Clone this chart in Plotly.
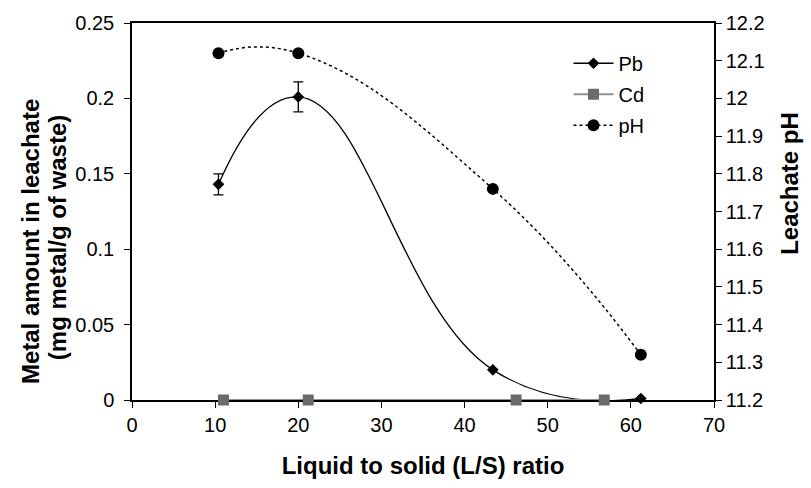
import plotly.graph_objects as go

pb_x = [10.4, 20.0, 43.4, 61.2]
pb_y = [0.143, 0.201, 0.020, 0.001]
pb_err = [0.007, 0.010, 0.0, 0.0]

cd_x = [11.0, 21.2, 46.2, 56.8]
cd_y = [0.0, 0.0, 0.0, 0.0]

ph_x = [10.4, 20.0, 43.4, 61.2]
ph_y = [12.12, 12.12, 11.76, 11.32]

x_ticks = [0, 10, 20, 30, 40, 50, 60, 70]
y1_ticks = [0, 0.05, 0.1, 0.15, 0.2, 0.25]
y1_labels = ["0", "0.05", "0.1", "0.15", "0.2", "0.25"]
y2_ticks = [11.2, 11.3, 11.4, 11.5, 11.6, 11.7, 11.8, 11.9, 12.0, 12.1, 12.2]
y2_labels = ["11.2", "11.3", "11.4", "11.5", "11.6", "11.7", "11.8", "11.9", "12", "12.1", "12.2"]

FONT = "Liberation Sans, Arial, sans-serif"
TICK = 20
TITLE = 24

fig = go.Figure()
fig.add_trace(go.Scatter(
    x=pb_x, y=pb_y, name="Pb", mode="lines+markers", legendgroup="a", cliponaxis=False,
    line=dict(color="black", width=1.3, shape="spline", smoothing=1.3),
    marker=dict(symbol="diamond", size=9, color="black"),
    error_y=dict(type="data", array=pb_err, visible=True, color="black", thickness=1.3, width=5),
))
fig.add_trace(go.Scatter(
    x=cd_x, y=cd_y, name="Cd", mode="lines+markers", legendgroup="b", cliponaxis=False,
    line=dict(color="#919191", width=2.2),
    marker=dict(symbol="square", size=11, color="#6b6b6b"),
))
fig.add_trace(go.Scatter(
    x=ph_x, y=ph_y, name="pH", mode="lines+markers", legendgroup="c", yaxis="y2", cliponaxis=False,
    line=dict(color="black", width=1.5, dash="dot", shape="spline", smoothing=1.3),
    marker=dict(symbol="circle", size=12, color="black"),
))

axis_common = dict(
    showline=True, linecolor="black", linewidth=1.5, ticks="outside", ticklen=6,
    tickcolor="black", tickwidth=1.2, showgrid=False, zeroline=False, layer="below traces",
    tickfont=dict(family=FONT, size=TICK, color="black"),
)

title_font = dict(family=FONT, size=TITLE, color="black")

fig.update_layout(
    width=811, height=488,
    margin=dict(l=132, r=97, t=18, b=88),
    plot_bgcolor="white", paper_bgcolor="white",
    font=dict(family=FONT, color="black"),
    xaxis=dict(range=[0, 70], tickvals=x_ticks, mirror=True,
               title=dict(text="<b>Liquid to solid (L/S) ratio</b>",
                          font=title_font, standoff=22),
               **axis_common),
    yaxis=dict(range=[0, 0.25], tickvals=y1_ticks, ticktext=y1_labels,
               ticklabelstandoff=6, **axis_common),
    yaxis2=dict(range=[11.2, 12.2], tickvals=y2_ticks, ticktext=y2_labels,
                overlaying="y", side="right", **axis_common),
    legend=dict(x=0.75, y=0.945, xanchor="left", yanchor="top",
                font=dict(family=FONT, size=TICK), bgcolor="rgba(0,0,0,0)",
                itemwidth=40, tracegroupgap=2),
    showlegend=True,
    annotations=[
        dict(text="<b>Metal amount in leachate</b>", textangle=-90, xref="paper", yref="paper",
             x=(30 - 132) / 582, y=(400 - 240) / 382, xanchor="center", yanchor="middle",
             showarrow=False, font=title_font),
        dict(text="<b>(mg metal/g of waste)</b>", textangle=-90, xref="paper", yref="paper",
             x=(57 - 132) / 582, y=(400 - 236) / 382, xanchor="center", yanchor="middle",
             showarrow=False, font=title_font),
        dict(text="<b>Leachate pH</b>", textangle=-90, xref="paper", yref="paper",
             x=(790 - 132) / 582, y=(400 - 181) / 382, xanchor="center", yanchor="middle",
             showarrow=False, font=title_font),
    ],
)

fig.write_html("out.html")
